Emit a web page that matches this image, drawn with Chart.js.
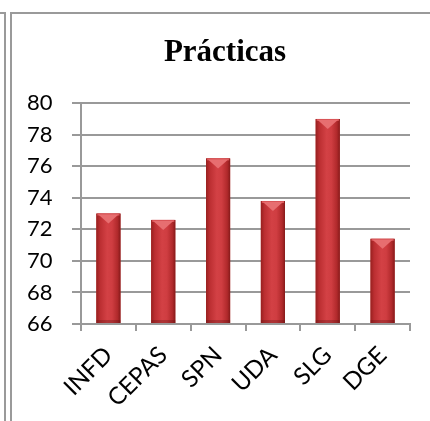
<!DOCTYPE html>
<html>
<head>
<meta charset="utf-8">
<script src="https://cdn.jsdelivr.net/npm/chart.js@4.4.1/dist/chart.umd.min.js"></script>
<style>
  html, body { margin: 0; padding: 0; background: #fff; }
  #wrap { position: relative; width: 430px; height: 421px; overflow: hidden; }
  #chartPracticas { position: absolute; left: 12px; top: 0; }
  .ln { position: absolute; background: #9a9a9a; }
</style>
</head>
<body>
<div id="wrap">
  <canvas id="chartPracticas" width="418" height="421"></canvas>
  <!-- page frame lines -->
  <div class="ln" style="left:0; top:12px; width:6px; height:2px;"></div>
  <div class="ln" style="left:4px; top:12px; width:2px; height:409px;"></div>
  <div class="ln" style="left:10px; top:12px; width:420px; height:2px;"></div>
  <div class="ln" style="left:10px; top:12px; width:2px; height:409px;"></div>
</div>
<script>
const categorias = ['INFD', 'CEPAS', 'SPN', 'UDA', 'SLG', 'DGE'];
const valores = [73.0, 72.6, 76.5, 73.8, 79.0, 71.4];
const ejeMin = 66;
const ejeMax = 80;
const ejePaso = 2;

// sombreado tipo cilindro sobre cada barra
const sombraBarras = {
  id: 'sombraBarras',
  afterDatasetsDraw(chart) {
    const ctx = chart.ctx;
    chart.getDatasetMeta(0).data.forEach(bar => {
      const { x, y, base, width } = bar.getProps(['x', 'y', 'base', 'width'], true);
      const l = x - width / 2, r = x + width / 2;
      const g = ctx.createLinearGradient(l, 0, r, 0);
      g.addColorStop(0, '#97201f');
      g.addColorStop(0.15, '#bb2e31');
      g.addColorStop(0.45, '#d34145');
      g.addColorStop(0.65, '#cf3d41');
      g.addColorStop(0.88, '#b0292b');
      g.addColorStop(1, '#861a1a');
      ctx.save();
      ctx.fillStyle = g;
      ctx.fillRect(l, y, width, base - y);
      // bisel superior
      ctx.fillStyle = '#d95457';
      ctx.fillRect(l + 1, y, width - 2, 2);
      ctx.beginPath();
      ctx.moveTo(l + 2, y + 1);
      ctx.lineTo(r - 2, y + 1);
      ctx.lineTo(x, y + 10);
      ctx.closePath();
      ctx.fillStyle = '#e76e70';
      ctx.fill();
      // borde inferior oscuro
      ctx.fillStyle = 'rgba(90,20,20,0.3)';
      ctx.fillRect(l, base - 3, width, 3);
      ctx.restore();
    });
  }
};

const ctx = document.getElementById('chartPracticas').getContext('2d');
new Chart(ctx, {
  type: 'bar',
  data: {
    labels: categorias,
    datasets: [{
      label: 'Prácticas',
      data: valores,
      base: ejeMin,
      backgroundColor: '#c0302f',
      barPercentage: 0.44,
      categoryPercentage: 1
    }]
  },
  options: {
    responsive: false,
    animation: false,
    layout: { padding: { left: 28, right: 20, top: 0, bottom: 0 } },
    plugins: {
      legend: { display: false },
      tooltip: { enabled: false },
      title: {
        display: true,
        text: 'Prácticas',
        color: '#000',
        font: { family: '"Liberation Serif", "Times New Roman", serif', size: 31, weight: 'bold', lineHeight: 1.2 },
        padding: { top: 34, bottom: 32 }
      }
    },
    scales: {
      x: {
        grid: { drawOnChartArea: false, color: '#999', lineWidth: 2, tickLength: 7, offset: true },
        border: { color: '#999', width: 2 },
        ticks: {
          color: '#000',
          font: { family: 'Lato, "Open Sans", sans-serif', size: 24 },
          minRotation: 45,
          maxRotation: 45,
          padding: 10
        },
        afterFit(scale) { scale.height = 97; }
      },
      y: {
        min: ejeMin,
        max: ejeMax,
        grid: { color: '#999', lineWidth: 2, tickLength: 9 },
        border: { color: '#999', width: 2 },
        ticks: {
          stepSize: ejePaso,
          color: '#000',
          font: { family: 'Lato, "Open Sans", sans-serif', size: 22 },
          mirror: true,
          crossAlign: 'far',
          padding: -(28 + 26)
        },
        afterFit(scale) { scale.width = 41; }
      }
    }
  },
  plugins: [sombraBarras]
});
</script>
</body>
</html>
